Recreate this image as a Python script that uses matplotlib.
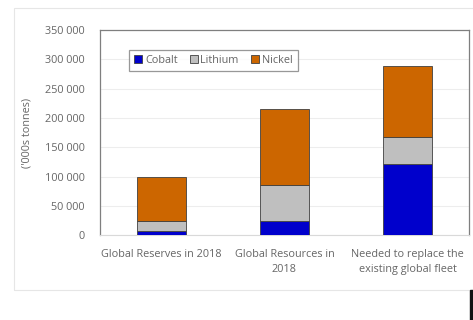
import matplotlib.pyplot as plt
from matplotlib.patches import Rectangle
from matplotlib.ticker import FuncFormatter

# -----------------------
# Data ('000s tonnes)
# -----------------------
categories = ["Global Reserves in 2018", "Global Resources in\n2018",
              "Needed to replace the\nexisting global fleet"]
cobalt  = [7000, 25000, 122000]
lithium = [18000, 60000, 45000]
nickel  = [75000, 131000, 122000]

COLORS = {"Cobalt": "#0000CC", "Lithium": "#BFBFBF", "Nickel": "#CC6600"}
TEXT = "#666666"
FS = 7.8

plt.rcParams["font.family"] = ["Open Sans", "DejaVu Sans"]

fig = plt.figure(figsize=(4.73, 3.20), dpi=100)
ax = fig.add_axes([0.2114, 0.2647, 0.7801, 0.6413])

# outer chart border
fig.patches.append(Rectangle((14 / 473, 1 - 290 / 320), 1.0, 282 / 320,
                             transform=fig.transFigure, fill=False,
                             edgecolor="#E6E6E6", linewidth=0.8))
# black block at bottom right
fig.patches.append(Rectangle((470 / 473, 0), 3 / 473, 30 / 320,
                             transform=fig.transFigure, color="#111111"))

x = list(range(len(categories)))
bottom2 = [c + l for c, l in zip(cobalt, lithium)]
kw = dict(width=0.4, edgecolor="#404040", linewidth=0.6, zorder=3)
ax.bar(x, cobalt, color=COLORS["Cobalt"], label="Cobalt", **kw)
ax.bar(x, lithium, bottom=cobalt, color=COLORS["Lithium"], label="Lithium", **kw)
ax.bar(x, nickel, bottom=bottom2, color=COLORS["Nickel"], label="Nickel", **kw)

ax.set_xlim(-0.5, 2.5)
ax.set_ylim(0, 350000)
ax.set_yticks(range(0, 350001, 50000))
ax.yaxis.set_major_formatter(FuncFormatter(lambda v, p: f"{int(v):,}".replace(",", " ")))
ax.grid(axis="y", color="#EDEDED", linewidth=0.8, zorder=0)
ax.set_xticks(x)
ax.set_xticklabels(categories, fontsize=FS, color=TEXT, linespacing=1.45)
ax.tick_params(axis="y", labelsize=FS, labelcolor=TEXT, length=0, pad=11)
ax.tick_params(axis="x", length=0, pad=10)
ax.set_ylabel("('000s tonnes)", fontsize=FS, color=TEXT, labelpad=9)

for s in ["left", "top", "right"]:
    ax.spines[s].set_color("#7F7F7F")
    ax.spines[s].set_linewidth(0.9)
ax.spines["bottom"].set_color("#D9D9D9")

leg = ax.legend(loc="upper left", bbox_to_anchor=(0.078, 0.905), ncol=3,
                fontsize=FS, frameon=True, fancybox=False, handlelength=0.75,
                handleheight=0.75, handletextpad=0.25, columnspacing=1.1,
                borderpad=0.5, borderaxespad=0)
leg.get_frame().set_edgecolor("#7F7F7F")
leg.get_frame().set_linewidth(0.9)
for t in leg.get_texts():
    t.set_color(TEXT)

fig.savefig("out.png", dpi=100)
